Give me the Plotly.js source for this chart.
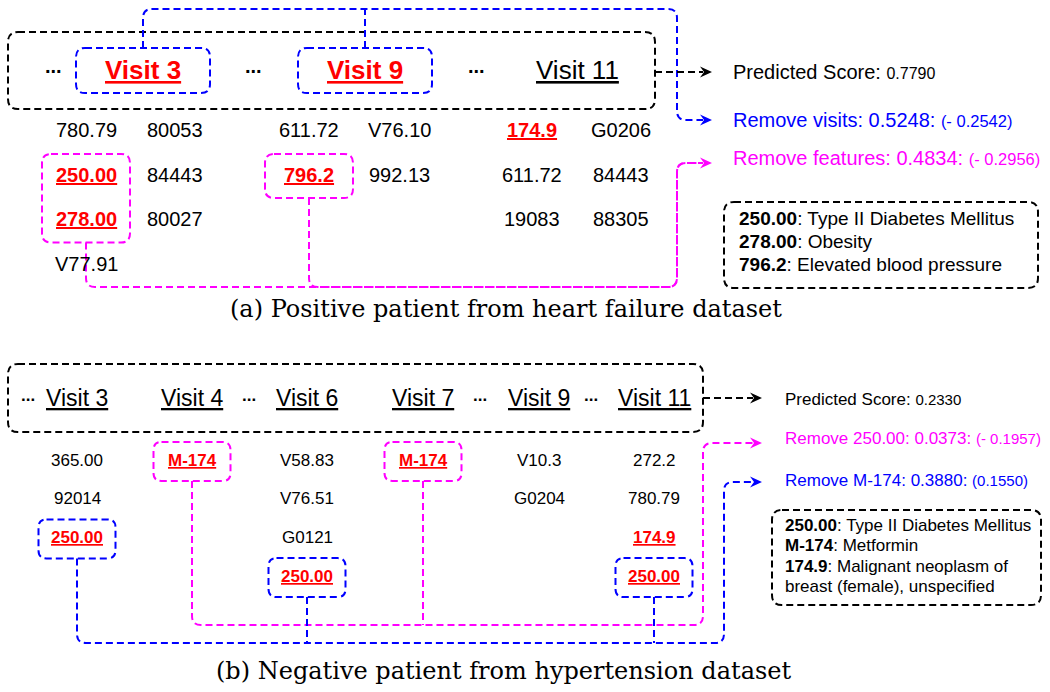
<!DOCTYPE html>
<html><head><meta charset="utf-8">
<script src="https://cdn.plot.ly/plotly-3.0.1.min.js"></script>
<style>html,body{margin:0;padding:0;background:#fff}#chart{width:1050px;height:692px}</style>
</head><body><div id="chart"></div>
<script>
// ---------------- data: panel (a) ----------------
const visitsA = ['Visit 3', 'Visit 9', 'Visit 11'];
const removedVisitsA = ['Visit 3', 'Visit 9'];
const colV3aLeft = ['780.79', '250.00', '278.00', 'V77.91'];
const colV3aRight = ['80053', '84443', '80027'];
const colV9aLeft = ['611.72', '796.2'];
const colV9aRight = ['V76.10', '992.13'];
const colV11aLeft = ['174.9', '611.72', '19083'];
const colV11aRight = ['G0206', '84443', '88305'];
const redCodesA = ['250.00', '278.00', '796.2', '174.9'];
const removedFeaturesA = ['250.00', '278.00', '796.2'];
const scoreLabelsA = ['Predicted Score', 'Remove visits', 'Remove features'];
const scoreValuesA = [0.7790, 0.5248, 0.4834];
const scoreDeltasA = [null, -0.2542, -0.2956];
const glossCodesA = ['250.00', '278.00', '796.2'];
const glossNamesA = ['Type II Diabetes Mellitus', 'Obesity', 'Elevated blood pressure'];
const captionA = '(a) Positive patient from heart failure dataset';

// ---------------- data: panel (b) ----------------
const visitsB = ['Visit 3', 'Visit 4', 'Visit 6', 'Visit 7', 'Visit 9', 'Visit 11'];
const colV3b = ['365.00', '92014', '250.00'];
const colV4b = ['M-174'];
const colV6b = ['V58.83', 'V76.51', 'G0121', '250.00'];
const colV7b = ['M-174'];
const colV9b = ['V10.3', 'G0204'];
const colV11b = ['272.2', '780.79', '174.9', '250.00'];
const redCodesB = ['250.00', 'M-174', '174.9'];
const scoreLabelsB = ['Predicted Score', 'Remove 250.00', 'Remove M-174'];
const scoreValuesB = [0.2330, 0.0373, 0.3880];
const scoreDeltasB = [null, -0.1957, 0.1550];
const glossCodesB = ['250.00', 'M-174', '174.9'];
const glossNamesB = ['Type II Diabetes Mellitus', 'Metformin', 'Malignant neoplasm of<br>breast (female), unspecified'];
const captionB = '(b) Negative patient from hypertension dataset';

// ---------------- styling / layout ----------------
const SANS = 'Liberation Sans, Arial, Helvetica, sans-serif';
const SERIF = 'DejaVu Serif, serif';
const BLUE = '#0000ff', MAG = '#ff00ff', RED = '#ff0000', BLK = '#000000';
const DASH = '7px,4px';
const annotations = [];
const shapes = [];

function ann(x, y, text, size, color, extra) {
  annotations.push(Object.assign({
    x: x, y: y, xref: 'x', yref: 'y', text: text, showarrow: false,
    xanchor: 'center', yanchor: 'middle',
    font: {family: SANS, size: size, color: color || BLK}
  }, extra || {}));
}
function rbox(x0, y0, x1, y1, r, color) {
  const p = `M${x0 + r},${y0} L${x1 - r},${y0} Q${x1},${y0} ${x1},${y0 + r} L${x1},${y1 - r} Q${x1},${y1} ${x1 - r},${y1} ` +
    `L${x0 + r},${y1} Q${x0},${y1} ${x0},${y1 - r} L${x0},${y0 + r} Q${x0},${y0} ${x0 + r},${y0} Z`;
  shapes.push({type: 'path', xref: 'x', yref: 'y', path: p, line: {color: color, width: 2, dash: DASH}});
}
function rpath(pts, r, color) {
  let p = `M${pts[0][0]},${pts[0][1]}`;
  for (let i = 1; i < pts.length - 1; i++) {
    const [px, py] = pts[i - 1], [cx, cy] = pts[i], [nx, ny] = pts[i + 1];
    const d1 = Math.hypot(cx - px, cy - py), d2 = Math.hypot(nx - cx, ny - cy);
    const ax = cx - (cx - px) / d1 * r, ay = cy - (cy - py) / d1 * r;
    const bx = cx + (nx - cx) / d2 * r, by = cy + (ny - cy) / d2 * r;
    p += ` L${ax},${ay} Q${cx},${cy} ${bx},${by}`;
  }
  const l = pts[pts.length - 1];
  p += ` L${l[0]},${l[1]}`;
  shapes.push({type: 'path', xref: 'x', yref: 'y', path: p, line: {color: color, width: 2, dash: DASH}});
}
function arrowHead(tx, ty, color) {
  shapes.push({type: 'path', xref: 'x', yref: 'y',
    path: `M${tx},${ty} L${tx - 12},${ty - 5.5} L${tx - 8},${ty} L${tx - 12},${ty + 5.5} Z`,
    fillcolor: color, line: {width: 0}});
}
function fmtDelta(d) {
  if (d === null) return '';
  return d < 0 ? `(- ${Math.abs(d).toFixed(4)})` : `(${d.toFixed(4)})`;
}
function codeText(code, reds) {
  return reds.includes(code) ? `<b><u>${code}</u></b>` : code;
}

// ===== panel (a) =====
const aVisitX = [143, 365, 577];
const aDotsX = [53, 253, 476];
const aVisitY = 70;
rbox(8, 32, 655, 109, 10, BLK);
aDotsX.forEach(x => ann(x, aVisitY - 4, '<b>...</b>', 20));
visitsA.forEach((v, i) => {
  const removed = removedVisitsA.includes(v);
  ann(aVisitX[i], aVisitY, removed ? `<b><u>${v}</u></b>` : `<u>${v}</u>`, 26, removed ? RED : BLK);
  if (removed) rbox(aVisitX[i] - 67, 48, aVisitX[i] + 67, 93, 9, BLUE);
});
const aCols = [[86, colV3aLeft], [175, colV3aRight], [309, colV9aLeft], [399, colV9aRight], [532, colV11aLeft], [621, colV11aRight]];
const aRowY0 = 130, aRowDy = 44.5;
aCols.forEach(([x, codes]) => {
  codes.forEach((c, r) => ann(x, aRowY0 + r * aRowDy, codeText(c, redCodesA), 20, redCodesA.includes(c) ? RED : BLK));
  const rows = codes.map((c, r) => removedFeaturesA.includes(c) ? r : -1).filter(r => r >= 0);
  if (rows.length) {
    const y0 = aRowY0 + rows[0] * aRowDy - 20.5, y1 = aRowY0 + rows[rows.length - 1] * aRowDy + 23.5;
    rbox(x - 44, y0, x + 44, y1, 9, MAG);
    rpath([[x, y1], [x, 287], [677, 287], [677, 163], [703, 163]], 9, MAG);
  }
});
// blue removed-visits connector
rpath([[aVisitX[0], 48], [aVisitX[0], 9], [677, 9], [677, 120], [703, 120]], 9, BLUE);
rpath([[aVisitX[1], 48], [aVisitX[1], 9]], 0, BLUE);
rpath([[655, 72], [703, 72]], 0, BLK);
arrowHead(712, 72, BLK); arrowHead(712, 120, BLUE); arrowHead(712, 163, MAG);
const aScoreY = [72, 120, 158], aScoreColor = [BLK, BLUE, MAG];
scoreLabelsA.forEach((lab, i) => {
  const d = scoreDeltasA[i];
  const t = i === 0
    ? `${lab}: <span style="font-size:16px">${scoreValuesA[i].toFixed(4)}</span>`
    : `${lab}: ${scoreValuesA[i].toFixed(4)}: <span style="font-size:16.5px">${fmtDelta(d)}</span>`;
  ann(731, aScoreY[i], t, 20, aScoreColor[i], {xanchor: 'left'});
});
rbox(724, 202, 1038, 288, 10, BLK);
glossCodesA.forEach((c, i) => ann(737, 218 + i * 23, `<b>${c}</b>: ${glossNamesA[i]}`, 19, BLK, {xanchor: 'left'}));
ann(506, 309, captionA, 24, BLK, {font: {family: SERIF, size: 24, color: BLK}});

// ===== panel (b) =====
const bVisitX = [77, 192, 307, 423, 539, 654];
const bDotsX = [28, 249, 480, 591];
const bVisitY = 398;
rbox(8, 364, 703, 432, 10, BLK);
bDotsX.forEach(x => ann(x, bVisitY - 3, '<b>...</b>', 17));
visitsB.forEach((v, i) => ann(bVisitX[i], bVisitY, `<u>${v}</u>`, 23, BLK));
const bCols = [colV3b, colV4b, colV6b, colV7b, colV9b, colV11b];
const bRowY0 = 460, bRowDy = 38.7;
const magTops = [], blueTops = [];
bCols.forEach((codes, ci) => {
  const x = bVisitX[ci];
  codes.forEach((c, r) => {
    const y = bRowY0 + r * bRowDy;
    ann(x, y, codeText(c, redCodesB), 17, redCodesB.includes(c) ? RED : BLK);
    if (c === 'M-174') { rbox(x - 38.5, y - 18, x + 38.5, y + 21, 8, MAG); magTops.push([x, y + 21]); }
    if (c === '250.00') { rbox(x - 38.5, y - 18, x + 38.5, y + 21, 8, BLUE); blueTops.push([x, y + 21]); }
  });
});
magTops.forEach(([x, y], i) => {
  if (i === 0) rpath([[x, y], [x, 625], [703, 625], [703, 443], [753, 443]], 9, MAG);
  else rpath([[x, y], [x, 625]], 0, MAG);
});
blueTops.forEach(([x, y], i) => {
  if (i === 0) rpath([[x, y], [x, 643], [724, 643], [724, 482], [753, 482]], 9, BLUE);
  else rpath([[x, y], [x, 643]], 0, BLUE);
});
rpath([[703, 398], [753, 398]], 0, BLK);
arrowHead(762, 398, BLK); arrowHead(762, 443, MAG); arrowHead(762, 482, BLUE);
const bScoreY = [399, 438, 480], bScoreColor = [BLK, MAG, BLUE];
scoreLabelsB.forEach((lab, i) => {
  const d = scoreDeltasB[i];
  const t = i === 0
    ? `${lab}: <span style="font-size:15px">${scoreValuesB[i].toFixed(4)}</span>`
    : `${lab}: ${scoreValuesB[i].toFixed(4)}: <span style="font-size:15px">${fmtDelta(d)}</span>`;
  ann(783, bScoreY[i], t, 17, bScoreColor[i], {xanchor: 'left'});
});
rbox(772, 510, 1041, 605, 10, BLK);
let gl = 0;
glossCodesB.forEach((c, i) => {
  const parts = glossNamesB[i].split('<br>');
  parts.forEach((p, k) => {
    ann(783, 525 + gl * 20.5, (k === 0 ? `<b>${c}</b>: ` : '') + p, 17, BLK, {xanchor: 'left'});
    gl++;
  });
});
ann(503, 671, captionB, 24, BLK, {font: {family: SERIF, size: 24, color: BLK}});

const layout = {
  width: 1050, height: 692,
  margin: {l: 0, r: 0, t: 0, b: 0},
  paper_bgcolor: '#fff', plot_bgcolor: '#fff',
  xaxis: {range: [0, 1050], visible: false, fixedrange: true},
  yaxis: {range: [692, 0], visible: false, fixedrange: true},
  showlegend: false,
  annotations: annotations,
  shapes: shapes
};
const traces = [{x: [0], y: [0], mode: 'markers', marker: {opacity: 0}, hoverinfo: 'skip'}];
Plotly.newPlot('chart', traces, layout, {staticPlot: true});
</script></body></html>
